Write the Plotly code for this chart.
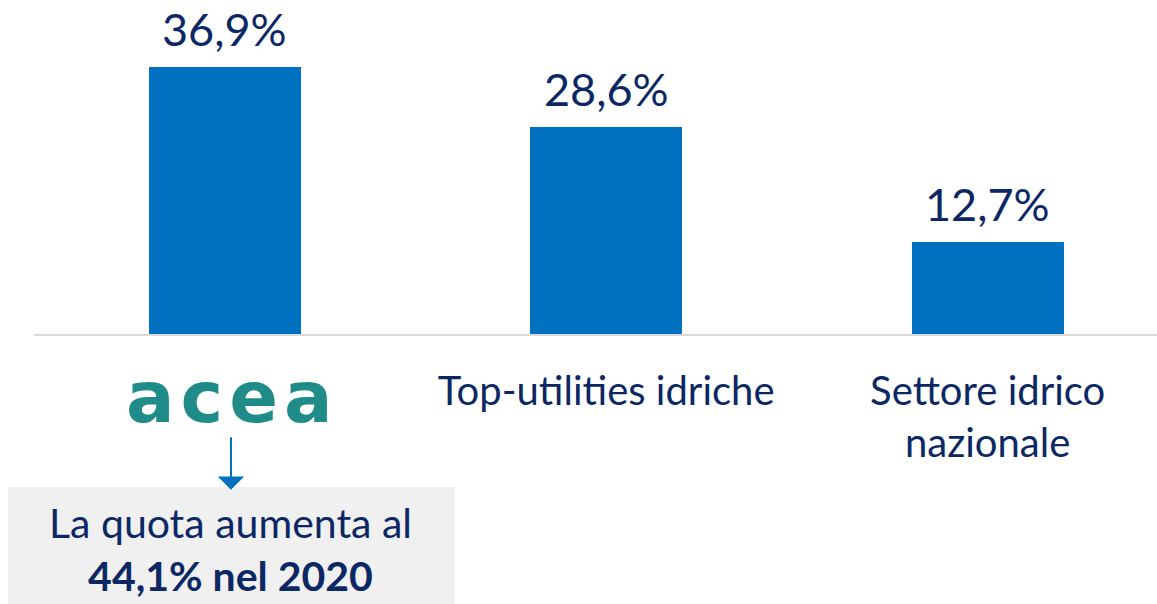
import plotly.graph_objects as go

categories = ["Acea", "Top-utilities idriche", "Settore idrico<br>nazionale"]
values = [36.9, 28.6, 12.7]
tick_labels = ["", "Top-utilities idriche", "Settore idrico<br>nazionale"]
logo_text = "acea"
callout_lines = ["La quota aumenta al", "<b>44,1% nel 2020</b>"]

NAVY = "#0c2864"
BLUE = "#0070c0"
FONT = "Lato"

x_idx = list(range(len(categories)))

fig = go.Figure()
fig.add_trace(go.Bar(
    x=x_idx, y=values, width=0.398,
    marker=dict(color=BLUE, line=dict(width=0)),
    hoverinfo="skip",
))

# value labels above bars
for i, v in zip(x_idx, values):
    fig.add_annotation(
        x=i, y=v, xref="x", yref="y",
        text=f"{v:.1f}%".replace(".", ","),
        showarrow=False, yanchor="bottom", yshift=9,
        font=dict(family=FONT, size=45, color=NAVY),
    )

# logo as text
fig.add_annotation(
    x=0, y=-0.19, xref="x", yref="paper", xshift=8, xanchor="center",
    text=f"<span style='letter-spacing:6px'><b>{logo_text}</b></span>",
    showarrow=False, yanchor="middle",
    font=dict(family="DejaVu Sans", size=72, color="#1f8c8a"),
)

# callout box
fig.add_shape(type="rect", xref="paper", yref="paper",
              x0=-0.0232, x1=0.3749, y0=-0.81, y1=-0.458,
              fillcolor="#f0f0f0", line=dict(width=0), layer="below")
# arrow
fig.add_annotation(
    x=0.1754, y=-0.4665, xref="paper", yref="paper",
    ax=0, ay=-54, showarrow=True, arrowhead=1, arrowsize=2.2, arrowwidth=2,
    arrowcolor=BLUE, text="",
)
fig.add_annotation(
    x=0.1754, y=-0.645, xref="paper", yref="paper",
    xanchor="center", yanchor="middle",
    text="<br>".join(callout_lines), showarrow=False, align="center",
    font=dict(family=FONT, size=41, color=NAVY),
)

fig.update_layout(
    width=1157, height=604,
    margin=dict(l=34, r=0, t=0, b=270, autoexpand=False),
    paper_bgcolor="white", plot_bgcolor="white",
    showlegend=False, bargap=0,
    xaxis=dict(
        range=[-0.5, 2.444], tickvals=x_idx, ticktext=tick_labels,
        showline=True, linecolor="#d9d9d9", linewidth=2,
        showgrid=False, zeroline=False, ticks="", automargin=False,
        tickfont=dict(family=FONT, size=40, color=NAVY),
        ticklabelstandoff=21,
    ),
    yaxis=dict(range=[0, 46.16], visible=False, showgrid=False,
               zeroline=False, automargin=False),
)

fig.write_html(
    "out.html",
    config={"displayModeBar": False},
    post_script="document.body.style.margin='0';document.body.style.overflow='hidden';",
)
